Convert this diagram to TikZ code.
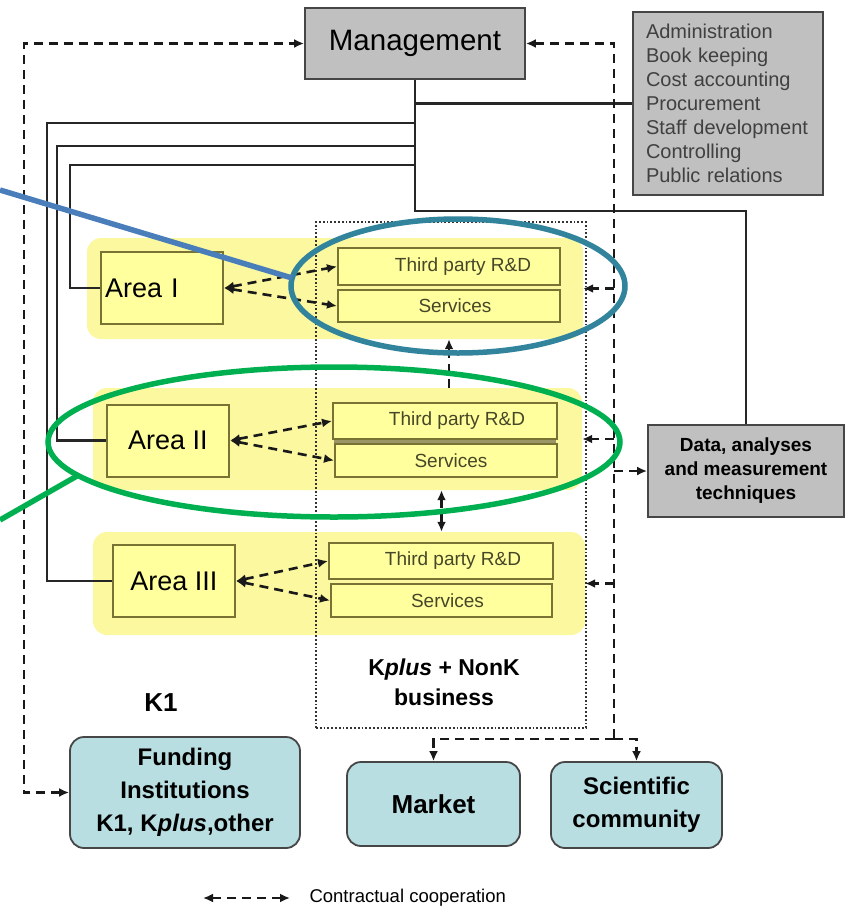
\documentclass[tikz,border=0pt]{standalone}
\usepackage{fontspec}
\setmainfont{Liberation Sans}
\usetikzlibrary{arrows.meta}
\definecolor{boxgray}{RGB}{192,192,192}
\definecolor{edgegray}{RGB}{70,70,70}
\definecolor{bandyel}{RGB}{252,248,160}
\definecolor{subyel}{RGB}{255,255,158}
\definecolor{olivedge}{RGB}{120,115,50}
\definecolor{tealfill}{RGB}{184,222,226}
\definecolor{ringteal}{RGB}{49,132,155}
\definecolor{ringgreen}{RGB}{0,176,80}
\definecolor{lineblue}{RGB}{74,126,187}
\definecolor{subtext}{RGB}{70,70,40}
\newcommand{\fsz}[2]{\fontsize{#1}{#2}\selectfont}
\begin{document}
\begin{tikzpicture}[x=1pt,y=-1pt,
  >={Latex[length=10pt,width=9pt]},
  graybox/.style={draw=edgegray,fill=boxgray,line width=1.8pt,inner sep=0pt},
  band/.style={fill=bandyel,rounded corners=14pt,inner sep=0pt},
  areabox/.style={draw=olivedge,fill=subyel,line width=2pt,inner sep=0pt,minimum width=122pt,minimum height=72pt,font=\fsz{27}{30}},
  subbox/.style={draw=olivedge,fill=subyel,line width=2pt,inner sep=0pt,font=\fsz{19}{22},text=subtext},
  tealbox/.style={draw=edgegray,fill=tealfill,line width=1.8pt,rounded corners=14pt,inner sep=0pt,align=center,font=\bfseries\fsz{24}{33}},
  conn/.style={line width=2.5pt,draw=black!85},
  coop/.style={line width=2.6pt,draw=black!90,dash pattern=on 9pt off 6pt},
  ring/.style={line width=5.5pt}
]
\useasboundingbox (0,0) rectangle (844,908);
\fill[white] (0,0) rectangle (844,908);

% yellow bands
\node[band,minimum width=496pt,minimum height=101pt] (band1) at (335,288.5) {};
\node[band,minimum width=489pt,minimum height=102pt] (band2) at (337.5,439) {};
\node[band,minimum width=492pt,minimum height=103pt] (band3) at (339,583.5) {};

% dotted Kplus frame
\node[draw=black!80,dotted,line width=1.8pt,minimum width=270pt,minimum height=506pt,inner sep=0pt] (kbox) at (451,475) {};

% gray boxes
\node[graybox,minimum width=220pt,minimum height=71pt,font=\fsz{29.5}{32}] (mgmt) at (415,43.5) {Management};
\node[graybox,minimum width=190pt,minimum height=183pt,text width=164pt,align=left,font=\fsz{20}{24},text=black!75] (admin) at (728,103.5) {Administration\\Book keeping\\Cost accounting\\Procurement\\Staff development\\Controlling\\Public relations};
\node[graybox,minimum width=196pt,minimum height=92pt,align=center,font=\bfseries\fsz{19}{24}] (data) at (746,471) {Data, analyses\\and measurement\\techniques};

% area boxes
\node[areabox,text width=114pt,align=left,inner xsep=4pt] (areaI) at (162,288) {Area I};
\node[areabox] (areaII) at (168,440.5) {Area II};
\node[areabox] (areaIII) at (174,581) {Area III};

% sub boxes
\node[subbox,minimum width=222pt,minimum height=37pt] (tp1) at (449,266.5) {\hspace{28pt}Third party R\&D};
\node[subbox,minimum width=222pt,minimum height=32pt] (s1) at (449,306) {\hspace{12pt}Services};
\fill[olivedge!75] (334,438) rectangle (556,445);
\node[subbox,minimum width=224pt,minimum height=36pt] (tp2) at (445,421) {\hspace{24pt}Third party R\&D};
\node[subbox,minimum width=222pt,minimum height=33pt] (s2) at (446,460.5) {\hspace{10pt}Services};
\node[subbox,minimum width=224pt,minimum height=36pt] (tp3) at (441,561) {\hspace{24pt}Third party R\&D};
\node[subbox,minimum width=221pt,minimum height=33pt] (s3) at (441.5,600.5) {\hspace{12pt}Services};

% labels
\node[font=\bfseries\fsz{23}{30},align=center] (klabel) at (444,682) {K\textit{plus} + NonK\\business};
\node[font=\bfseries\fsz{26}{30}] (k1) at (161,703) {K1};

% teal boxes
\node[tealbox,minimum width=230pt,minimum height=111pt] (fund) at (185,792.5) {Funding\\Institutions\\K1, K\textit{plus},other};
\node[tealbox,minimum width=173pt,minimum height=84pt,font=\bfseries\fsz{26}{33}] (market) at (433.5,804) {Market};
\node[tealbox,minimum width=171pt,minimum height=86pt] (sci) at (636.5,805) {Scientific\\community};

% solid connectors
\coordinate (jD) at (415,211);
\coordinate (jA3) at (415,123); \coordinate (cA3) at (47,123);
\coordinate (jA2) at (415,146); \coordinate (cA2) at (57,146);
\coordinate (jA1) at (415,165); \coordinate (cA1) at (70,165);
\draw[conn] (mgmt.south) -- (jD) -| (data.north);
\draw[conn] (mgmt.south |- admin.west) -- (admin.west);
\draw[conn] (jA3) -- (cA3) |- (areaIII.west);
\draw[conn] (jA2) -- (cA2) |- (areaII.west);
\draw[conn] (jA1) -- (cA1) |- (areaI.west);

% dashed cooperation connectors
\coordinate (lx) at (24,43.5);
\draw[coop,<->] (fund.west) -| (lx) -- (mgmt.west);
\coordinate (rx) at (614,739);
\draw[coop,<-] (mgmt.east) -| (rx);
\draw[coop,->] (rx) -| (market.north);
\draw[coop,->] (rx) -| (sci.north);
\draw[coop,->] (band1.east -| rx) -- (band1.east);
\draw[coop,->] (band2.east -| rx) -- (band2.east);
\draw[coop,->] (band3.east -| rx) -- (band3.east);
\draw[coop,->] (data.west -| rx) -- (data.west);
\draw[coop,<->] (areaI.east) -- (tp1.west);
\draw[coop,<->] (areaI.east) -- (s1.west);
\draw[coop,<->] (areaII.east) -- (tp2.west);
\draw[coop,<->] (areaII.east) -- (s2.west);
\draw[coop,<->] (areaIII.east) -- (tp3.west);
\draw[coop,<->] (areaIII.east) -- (s3.west);
\draw[coop,->] (band2.north -| s1.south) -- (band1.south -| s1.south);
\draw[coop,<->] (band2.south -| s3.north) -- (band3.north -| s3.north);

% legend
\coordinate (legA) at (203,898); \coordinate (legB) at (290,898);
\draw[coop,<->] (legA) -- (legB);
\node[anchor=west,font=\fsz{18.5}{20}] (legtext) at (306,898) {Contractual cooperation};

% highlight rings and callout lines
\draw[ring,ringteal] (458,286) ellipse [x radius=167,y radius=67];
\draw[ring,ringgreen] (334,442) ellipse [x radius=286,y radius=75];
\coordinate (bl0) at (0,190); \coordinate (bl1) at (292,278);
\draw[ring,lineblue] (bl0) -- (bl1);
\coordinate (gl0) at (0,520); \coordinate (gl1) at (77,476);
\draw[ring,ringgreen] (gl0) -- (gl1);
\end{tikzpicture}
\end{document}
